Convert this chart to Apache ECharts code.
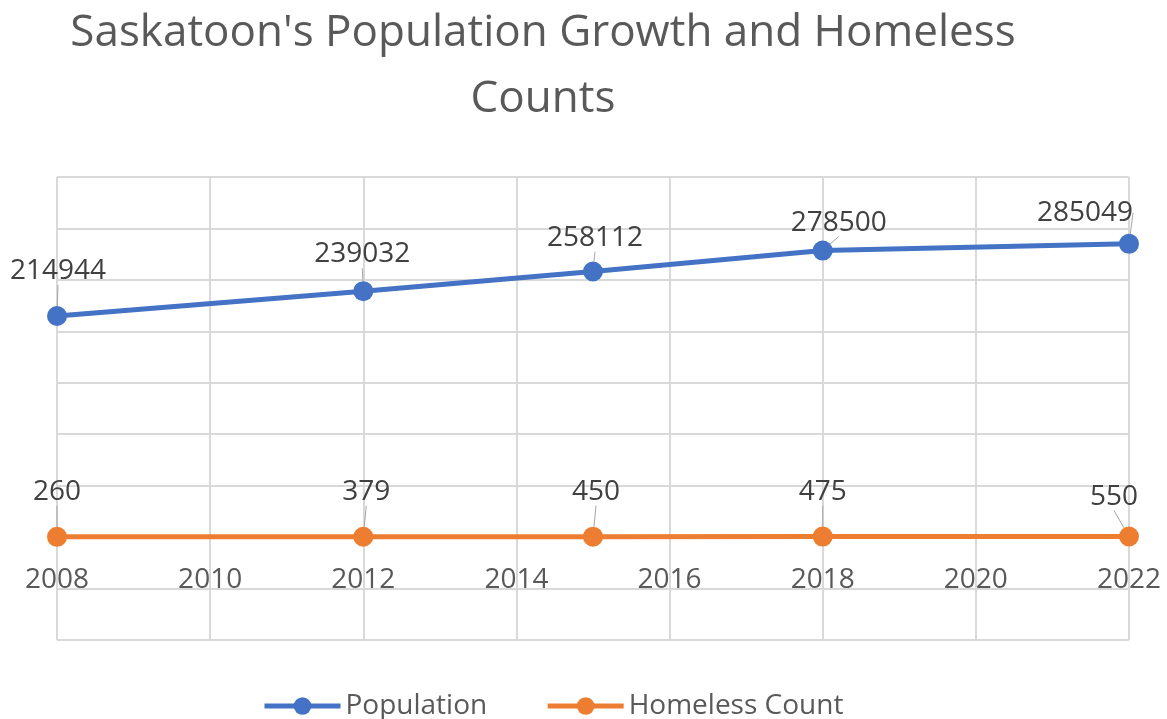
<!DOCTYPE html>
<html>
<head>
<meta charset="utf-8">
<title>Saskatoon's Population Growth and Homeless Counts</title>
<script src="https://cdn.jsdelivr.net/npm/echarts@6/dist/echarts.min.js"></script>
<style>
  html, body { margin: 0; padding: 0; background: #ffffff; }
  #chart { width: 1167px; height: 719px; }
</style>
</head>
<body>
<div id="chart"></div>
<script>
// Census / count years
const years = [2008, 2012, 2015, 2018, 2022];
// City population
const population = [214944, 239032, 258112, 278500, 285049];
// Point-in-time homeless counts
const homelessCount = [260, 379, 450, 475, 550];
// Year tick labels, printed along the zero line
const yearTicks = [2008, 2010, 2012, 2014, 2016, 2018, 2020, 2022];

const seriesNames = ['Population', 'Homeless Count'];
const titleText = "Saskatoon's Population Growth and Homeless\nCounts";

const BLUE = '#4472C4';
const ORANGE = '#ED7D31';
const TEXT = '#595959';
const VALUE_TEXT = '#404040';
const GRID = '#D9D9D9';
const FONT = '"Open Sans", "Noto Sans", sans-serif';

// label nudges (px) from each marker's centre, per series
const popLabelShift = [[1, -45], [-1, -37], [2, -34], [16, -28], [-44, -31]];
const homeLabelShift = [[0, -45], [3, -45], [3, -45], [0, -45], [-15, -40]];

const pair = (xs, ys) => xs.map((x, i) => [x, ys[i]]);

const chart = echarts.init(document.getElementById('chart'), null, { renderer: 'canvas' });

function labelCfg() {
  return {
    show: true,
    position: 'inside',
    color: VALUE_TEXT,
    fontFamily: FONT,
    fontSize: 28,
    formatter: p => String(p.value[1])
  };
}

const option = {
  backgroundColor: '#ffffff',
  animation: false,
  title: {
    text: titleText,
    left: 543,
    top: 0,
    padding: 0,
    textAlign: 'center',
    textStyle: {
      color: TEXT,
      fontFamily: FONT,
      fontWeight: 'normal',
      fontSize: 44,
      lineHeight: 66
    }
  },
  legend: {
    top: 687,
    left: 257,
    itemWidth: 76,
    itemHeight: 22,
    itemGap: 58,
    lineStyle: { width: 5 },
    textStyle: { color: TEXT, fontFamily: FONT, fontSize: 28 },
    data: seriesNames
  },
  grid: { left: 57, right: 38, top: 177, bottom: 79, containLabel: false },
  xAxis: {
    type: 'value',
    min: 2008,
    max: 2022,
    interval: 2,
    axisLine: { show: false },
    axisTick: { show: false },
    axisLabel: { show: false },
    splitLine: { show: true, lineStyle: { color: GRID, width: 2 } }
  },
  yAxis: {
    type: 'value',
    min: -100000,
    max: 350000,
    interval: 50000,
    axisLine: { show: false },
    axisTick: { show: false },
    axisLabel: { show: false },
    splitLine: { show: true, lineStyle: { color: GRID, width: 2 } }
  },
  series: [
    {
      // year labels sitting just under the zero line
      name: 'yearTicks',
      type: 'scatter',
      silent: true,
      symbolSize: 0,
      itemStyle: { opacity: 1 },
      data: yearTicks.map(y => [y, 0]),
      label: {
        show: true,
        position: 'bottom',
        distance: 29,
        color: TEXT,
        opacity: 1,
        fontFamily: FONT,
        fontSize: 28,
        formatter: p => String(p.value[0])
      },
      z: 1
    },
    {
      name: seriesNames[0],
      type: 'line',
      data: pair(years, population),
      symbol: 'circle',
      symbolSize: 20,
      lineStyle: { color: BLUE, width: 5 },
      itemStyle: { color: BLUE },
      label: labelCfg(),
      labelLine: { show: true, lineStyle: { color: '#A6A6A6', width: 1 } },
      labelLayout: p => ({ dx: popLabelShift[p.dataIndex][0], dy: popLabelShift[p.dataIndex][1] }),
      z: 3
    },
    {
      name: seriesNames[1],
      type: 'line',
      data: pair(years, homelessCount),
      symbol: 'circle',
      symbolSize: 20,
      lineStyle: { color: ORANGE, width: 5 },
      itemStyle: { color: ORANGE },
      label: labelCfg(),
      labelLine: { show: true, lineStyle: { color: '#A6A6A6', width: 1 } },
      labelLayout: p => ({ dx: homeLabelShift[p.dataIndex][0], dy: homeLabelShift[p.dataIndex][1] }),
      z: 3
    }
  ]
};

chart.setOption(option);
</script>
</body>
</html>
